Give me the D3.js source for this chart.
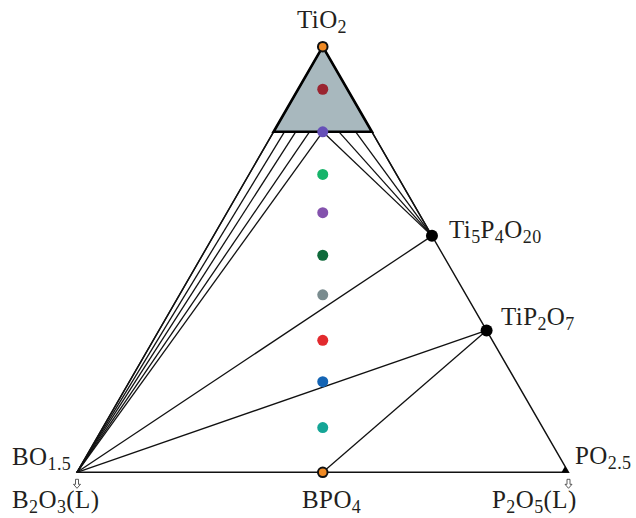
<!DOCTYPE html>
<html>
<head>
<meta charset="utf-8">
<script src="https://cdn.jsdelivr.net/npm/d3@7"></script>
<style>
  html, body { margin: 0; padding: 0; background: #fff; }
  svg { display: block; }
  text { font-family: "Liberation Serif", "DejaVu Serif", serif; fill: #231f20; }
</style>
</head>
<body>
<svg id="chart" width="636" height="518"></svg>
<script>
// Ternary system TiO2 – BO1.5 – PO2.5; compositions as (TiO2 fraction, PO2.5 fraction)
const vertices = [
  { name: "TiO2",  t: 1, p: 0 },
  { name: "BO1.5", t: 0, p: 0 },
  { name: "PO2.5", t: 0, p: 1 }
];

// Rutile solid-solution field (TiO2 >= 0.8)
const rutileField = [[1, 0], [0.8, 0], [0.8, 0.2]];

// Intermediate compounds on the TiO2–PO2.5 join
const compounds = [
  { name: "Ti5P4O20", t: 5 / 9, p: 4 / 9 },
  { name: "TiP2O7",   t: 1 / 3, p: 2 / 3 }
];

// Tie lines from the edge of the rutile field (TiO2 = 0.8), by PO2.5 fraction
const tiesToB   = [0, 0.022, 0.045, 0.073, 0.1];
const tiesToTi5 = [0.1, 0.133, 0.167, 0.2];

// Other tie lines: [from, to] as [t, p]
const tieLines = [
  [[0, 0], [5 / 9, 4 / 9]],
  [[0, 0], [1 / 3, 2 / 3]],
  [[1 / 3, 2 / 3], [0, 0.5]]
];

// Studied compositions on the BO1.5 : PO2.5 = 1 : 1 section, by TiO2 fraction
const sampleTiO2   = [0.9, 0.8, 0.7, 0.61, 0.51, 0.417, 0.31, 0.213, 0.105];
const sampleColors = ["#9a2430", "#6650b8", "#17b46a", "#8452ad", "#0f6a3b",
                      "#7a8c8f", "#e22a2e", "#1464b4", "#14a596"];

// End compositions of the section (outlined markers)
const endPoints = [{ t: 1, p: 0 }, { t: 0, p: 0.5 }];

const svg = d3.select("#chart");

const h = Math.sqrt(3) / 2;
const x = d3.scaleLinear().domain([0, 1]).range([77, 568.5]);
const y = d3.scaleLinear().domain([0, h]).range([472.3, 46.7]);

function proj(t, p) {
  return [x(p + t / 2), y(t * h)];
}
const line = d3.line().x(d => d[0]).y(d => d[1]);

// Rutile field
svg.append("path")
  .attr("d", line(rutileField.map(d => proj(d[0], d[1]))) + "Z")
  .attr("fill", "#a8b8be")
  .attr("stroke", "none");

// Tie lines
const ties = [];
tiesToB.forEach(p => ties.push([proj(0.8, p), proj(0, 0)]));
tiesToTi5.forEach(p => ties.push([proj(0.8, p), proj(compounds[0].t, compounds[0].p)]));
tieLines.forEach(tl => ties.push(tl.map(d => proj(d[0], d[1]))));

svg.append("g").selectAll("path").data(ties).join("path")
  .attr("d", d => line(d))
  .attr("fill", "none")
  .attr("stroke", "#111")
  .attr("stroke-width", 1.3);

// Main triangle
svg.append("path")
  .attr("d", line(vertices.map(v => proj(v.t, v.p))) + "Z")
  .attr("fill", "none")
  .attr("stroke", "#111")
  .attr("stroke-width", 1.4)
  .attr("stroke-linejoin", "miter");

// Rutile field outline
svg.append("path")
  .attr("d", line(rutileField.map(d => proj(d[0], d[1]))) + "Z")
  .attr("fill", "none")
  .attr("stroke", "#000")
  .attr("stroke-width", 2.6)
  .attr("stroke-linejoin", "miter");

// Small corner marker at PO2.5
const pc = proj(0, 1);
svg.append("path")
  .attr("d", `M${pc[0]},${pc[1]} l-7,0 l3.5,-6 Z`)
  .attr("fill", "#000");

// Hollow down-arrows under BO1.5 and PO2.5
[proj(0, 0), proj(0, 1)].forEach(c => {
  const cx = c[0], cy = c[1] + 7;
  svg.append("path")
    .attr("d", `M${cx - 1.5},${cy} h3 v5 h2 l-3.5,4 l-3.5,-4 h2 Z`)
    .attr("fill", "#fff")
    .attr("stroke", "#333")
    .attr("stroke-width", 0.8);
});

// Sample points
svg.append("g").selectAll("circle").data(sampleTiO2).join("circle")
  .attr("cx", d => proj(d, (1 - d) / 2)[0])
  .attr("cy", d => proj(d, (1 - d) / 2)[1])
  .attr("r", 5.5)
  .attr("fill", (d, i) => sampleColors[i]);

// Compounds
svg.append("g").selectAll("circle").data(compounds).join("circle")
  .attr("cx", d => proj(d.t, d.p)[0])
  .attr("cy", d => proj(d.t, d.p)[1])
  .attr("r", 6)
  .attr("fill", "#000");

// End compositions
svg.append("g").selectAll("circle").data(endPoints).join("circle")
  .attr("cx", d => proj(d.t, d.p)[0])
  .attr("cy", d => proj(d.t, d.p)[1])
  .attr("r", 4.8)
  .attr("fill", "#f08a24")
  .attr("stroke", "#111")
  .attr("stroke-width", 2);

// Labels: parts of [text, isSubscript]
const labels = [
  { parts: [["TiO", 0], ["2", 1]], x: 297, y: 28 },
  { parts: [["BO", 0], ["1.5", 1]], x: 12, y: 465 },
  { parts: [["B", 0], ["2", 1], ["O", 0], ["3", 1], ["(L)", 0]], x: 12, y: 508 },
  { parts: [["BPO", 0], ["4", 1]], x: 302, y: 508 },
  { parts: [["P", 0], ["2", 1], ["O", 0], ["5", 1], ["(L)", 0]], x: 492, y: 508 },
  { parts: [["PO", 0], ["2.5", 1]], x: 575, y: 464 },
  { parts: [["Ti", 0], ["5", 1], ["P", 0], ["4", 1], ["O", 0], ["20", 1]], x: 449, y: 238 },
  { parts: [["TiP", 0], ["2", 1], ["O", 0], ["7", 1]], x: 501, y: 325 }
];

const lab = svg.append("g").selectAll("text").data(labels).join("text")
  .attr("x", d => d.x)
  .attr("y", d => d.y)
  .attr("font-size", 25)
  .attr("letter-spacing", 0.4);

lab.each(function (d) {
  const t = d3.select(this);
  let shifted = false;
  d.parts.forEach(([s, sub]) => {
    const ts = t.append("tspan").text(s);
    if (sub) {
      ts.attr("font-size", 18);
      if (!shifted) { ts.attr("dy", 5); shifted = true; }
    } else if (shifted) {
      ts.attr("dy", -5);
      shifted = false;
    }
  });
});
</script>
</body>
</html>
